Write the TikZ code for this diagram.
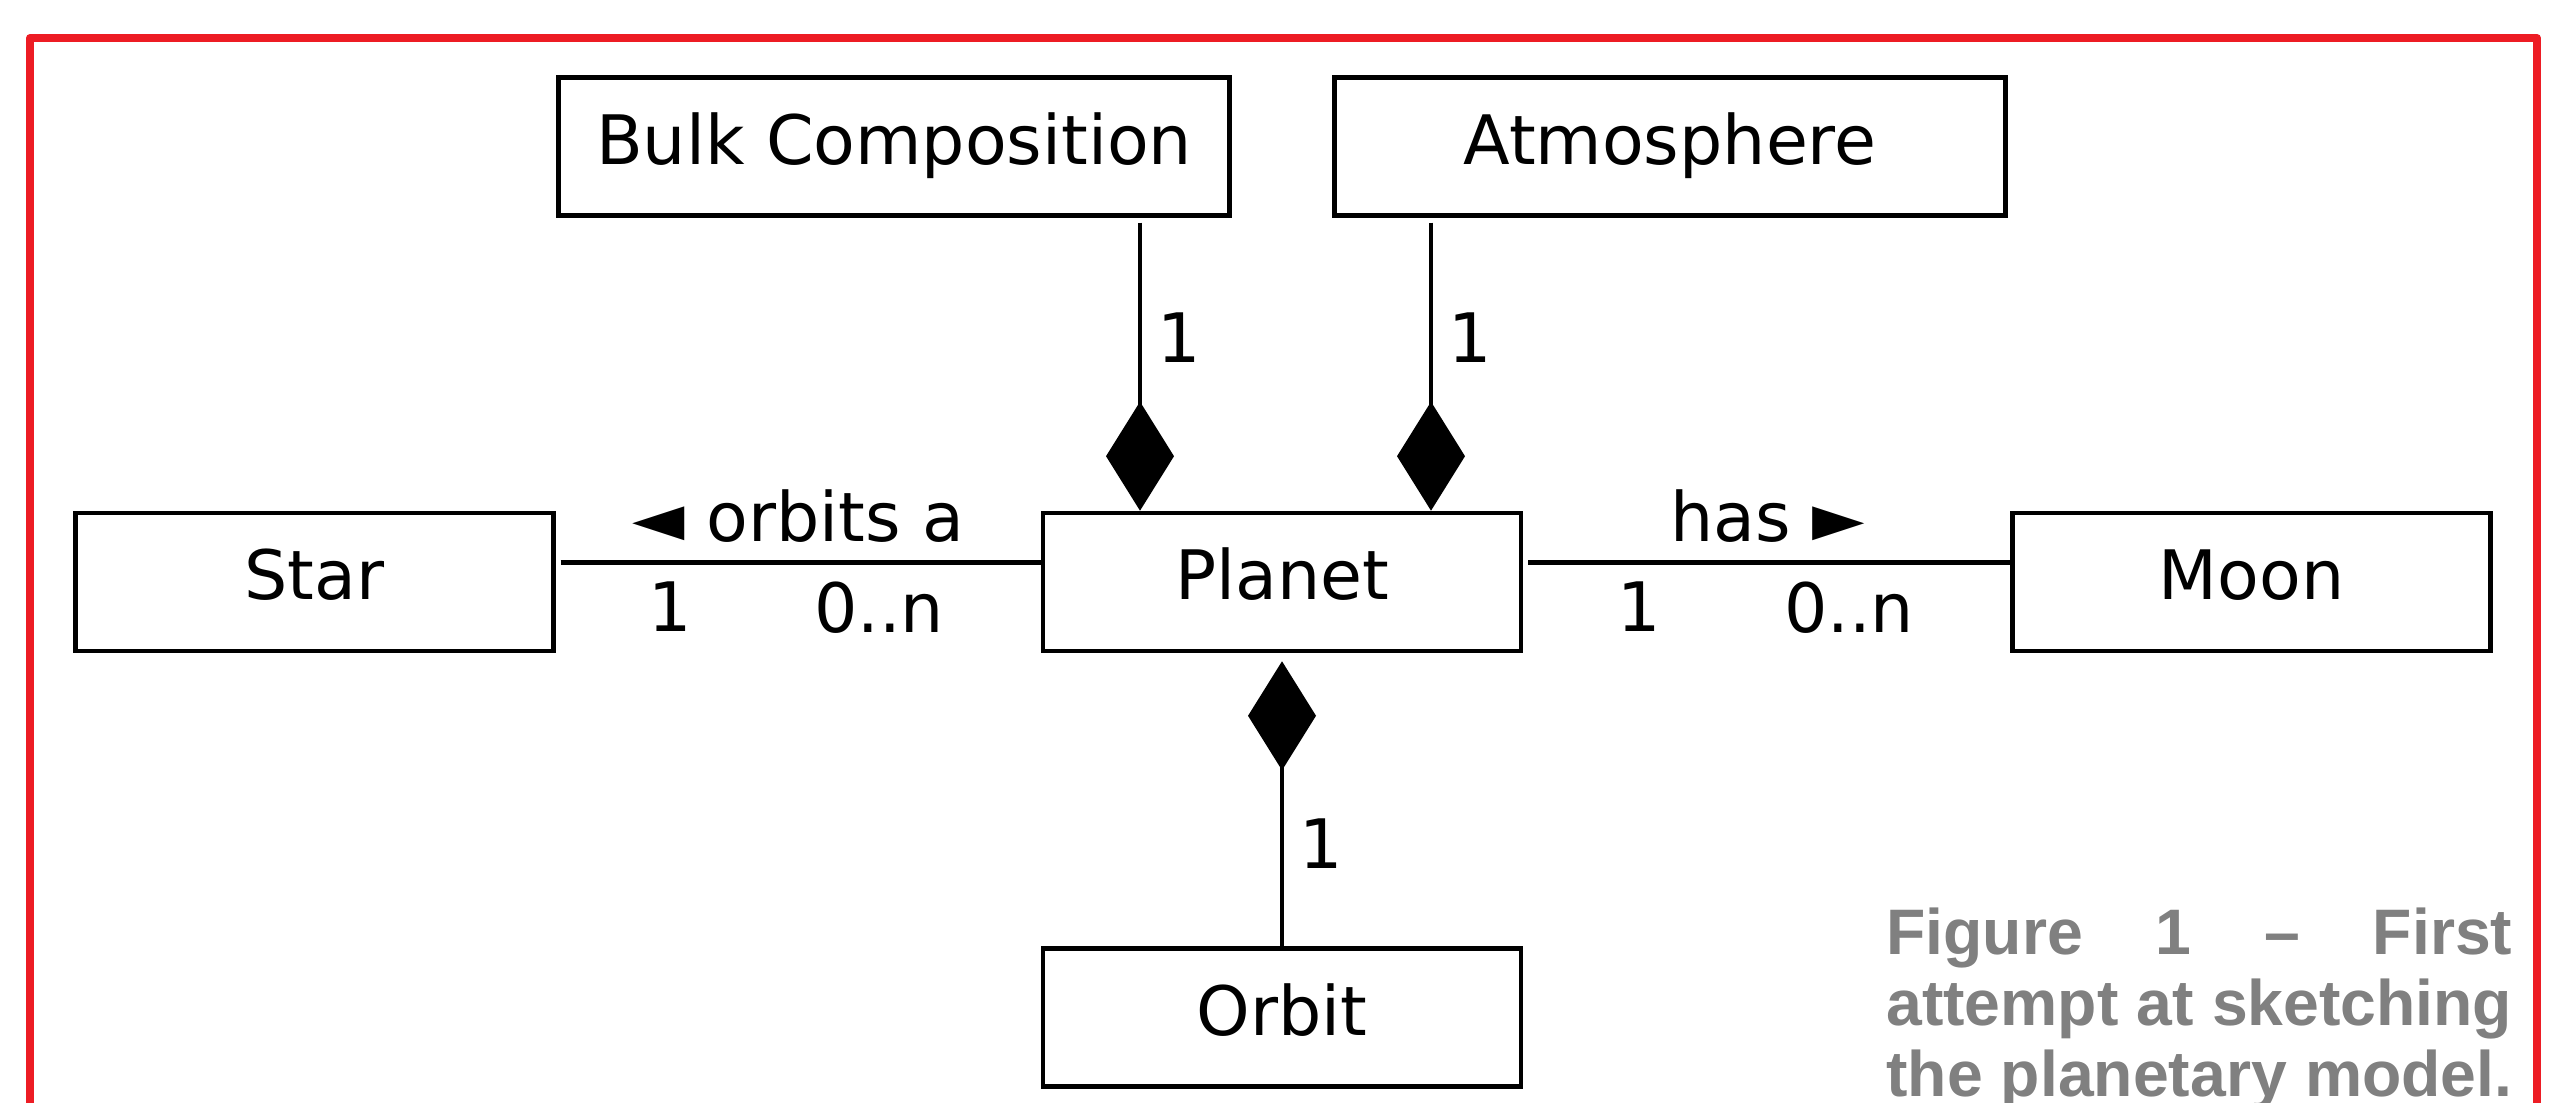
\documentclass[tikz,border=0pt]{standalone}
\usepackage{fontspec}
\setmainfont{DejaVu Sans}
\newfontfamily\capfont{Liberation Sans}
\usetikzlibrary{arrows.meta,positioning,calc}
\definecolor{framered}{RGB}{237,28,36}
\tikzset{
    cls/.style = {rectangle, draw, minimum width=4.78cm, minimum height=1.38cm, inner sep=0pt,
        text height=0.5cm, text depth=0.14cm},
    wide/.style = {cls, minimum width=6.71cm},
    comp/.style = {-{Diamond[length=1.09cm,width=0.68cm]}},
    lbl/.style = {inner sep=0pt},
    caption/.style = {font=\capfont\bfseries\fontsize{18.3pt}{20.06pt}\selectfont,
        text=black!50, align=left, inner sep=0pt}
}

\begin{document}
\begin{tikzpicture}[line width=1.3pt, node distance=2.93cm and 4.85cm,
    font=\fontsize{19.4pt}{23pt}\selectfont]
    \useasboundingbox (0,0) rectangle (25.64,11.03);
    \clip (0,0) rectangle (25.64,11.03);
    % frame, open at the bottom
    \draw[framered, line width=2.3pt, line join=round] (0.30,-1) |- (25.37,10.65) -- (25.37,-1);

    \node[cls] (planet) at (12.82,5.21) {Planet};
    \node[cls] (star) [left = 4.85cm of planet] {Star};
    \node[cls] (moon) [right = 4.87cm of planet] {Moon};
    \node[cls] (orbit) [below = of planet] {Orbit};
    \node[wide] (bulk) [above = of planet, xshift=-3.88cm] {Bulk Composition};
    \node[wide] (atmo) [above = of planet, xshift=3.88cm] {Atmosphere};

    \coordinate (b1) at ([xshift=-1.42cm]planet.north);
    \coordinate (a1) at ([xshift=1.49cm]planet.north);

    \path (b1 |- bulk.south) edge[comp, shorten <=0.05cm] node[lbl, right=1.5mm, pos=.41] {1} (b1);
    \path (a1 |- atmo.south) edge[comp, shorten <=0.05cm] node[lbl, right=1.5mm, pos=.41] {1} (a1);
    \path (orbit) edge[comp, shorten >=0.08cm] node[lbl, right=1.5mm, pos=.35] {1} (planet);

    \path ([yshift=1.95mm]star.east) edge[shorten <=0.05cm]
        node[lbl, above=1.8mm] {◄ orbits a}
        node[lbl, below=1.7mm, pos=.237] {1}
        node[lbl, below=1.7mm, pos=.667] {0..n} ([yshift=1.95mm]planet.west);
    \path ([yshift=1.95mm]planet.east) edge[shorten <=0.05cm]
        node[lbl, above=1.8mm, pos=.502] {has ►}
        node[lbl, below=1.7mm, pos=.238] {1}
        node[lbl, below=1.7mm, pos=.669] {0..n} ([yshift=1.95mm]moon.west);

    \node[caption, anchor=base west] (cap) at (18.84,0.07)
        {\makebox[6.26cm][s]{Figure 1 – First}\\
         \makebox[6.26cm][s]{attempt at sketching}\\
         \makebox[6.26cm][s]{the planetary model.}};
\end{tikzpicture}
\end{document}
